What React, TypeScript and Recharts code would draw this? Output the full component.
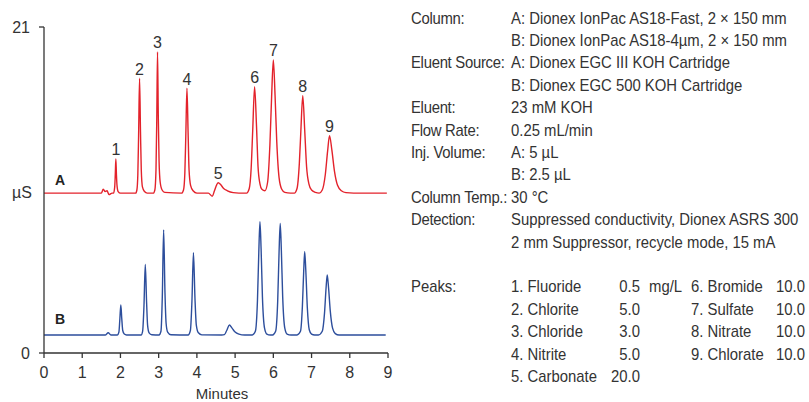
import React from 'react'
import { LineChart, Line, XAxis, YAxis, ReferenceDot } from 'recharts'

// chromatogram A (AS18-Fast), [minutes, µS], offset baseline ~10.3
const traceA: [number, number][] = [
  [0, 10.3], [1.5, 10.3], [1.55, 10.55], [1.6, 10.4], [1.65, 10.45], [1.7, 10.2], [1.78, 10.3],
  [1.82, 10.3], [1.85, 10.7], [1.865, 11.5], [1.88, 12.5], [1.895, 11.5], [1.91, 10.8], [1.94, 10.4], [2.0, 10.3],
  [2.4, 10.3], [2.43, 10.5], [2.455, 11.5], [2.475, 14.0], [2.5, 17.7], [2.525, 14.2], [2.545, 11.8], [2.575, 10.7], [2.63, 10.4], [2.7, 10.3],
  [2.86, 10.3], [2.9, 10.5], [2.93, 11.8], [2.95, 15.0], [2.97, 19.4], [2.99, 15.3], [3.01, 12.4], [3.04, 11.0], [3.09, 10.5], [3.16, 10.35],
  [3.6, 10.3], [3.65, 10.5], [3.685, 11.6], [3.71, 14.0], [3.74, 17.05], [3.77, 14.2], [3.795, 11.8], [3.835, 10.8], [3.9, 10.45], [4.0, 10.3],
  [4.3, 10.3], [4.4, 10.1], [4.46, 10.45], [4.52, 10.85], [4.56, 10.97], [4.62, 10.85], [4.7, 10.6], [4.8, 10.45], [4.95, 10.33], [5.1, 10.3],
  [5.3, 10.3], [5.37, 10.6], [5.42, 11.9], [5.46, 14.3], [5.51, 17.16], [5.56, 14.6], [5.6, 12.0], [5.65, 10.9], [5.7, 10.55],
  [5.78, 10.45], [5.85, 11.0], [5.91, 13.4], [5.955, 16.5], [6.0, 18.88], [6.045, 16.6], [6.09, 13.6], [6.15, 11.3], [6.22, 10.55], [6.3, 10.35], [6.45, 10.3],
  [6.55, 10.3], [6.62, 10.6], [6.68, 12.2], [6.72, 14.3], [6.77, 16.58], [6.82, 14.4], [6.87, 12.0], [6.93, 10.9], [7.0, 10.5], [7.1, 10.35],
  [7.2, 10.3], [7.28, 10.5], [7.36, 11.5], [7.42, 13.0], [7.47, 14.0], [7.53, 13.1], [7.6, 11.7], [7.68, 10.8], [7.78, 10.45], [7.9, 10.33], [8.1, 10.3],
  [8.97, 10.3],
]

// chromatogram B (AS18-4µm), baseline ~1.16
const traceB: [number, number][] = [
  [0, 1.16], [1.6, 1.16], [1.68, 1.3], [1.75, 1.16],
  [1.92, 1.16], [1.96, 1.35], [1.985, 2.2], [2.01, 3.09], [2.035, 2.2], [2.06, 1.45], [2.1, 1.22], [2.16, 1.16],
  [2.54, 1.16], [2.58, 1.4], [2.615, 3.0], [2.65, 5.71], [2.685, 3.2], [2.71, 1.8], [2.75, 1.3], [2.82, 1.18],
  [3.01, 1.16], [3.06, 1.4], [3.095, 3.6], [3.13, 7.93], [3.165, 3.9], [3.195, 1.9], [3.235, 1.35], [3.32, 1.18],
  [3.77, 1.16], [3.83, 1.45], [3.87, 3.3], [3.91, 6.46], [3.95, 3.5], [3.985, 1.8], [4.04, 1.3], [4.13, 1.17],
  [4.65, 1.16], [4.72, 1.18], [4.78, 1.45], [4.85, 1.8], [4.92, 1.6], [5.0, 1.35], [5.1, 1.22], [5.25, 1.16],
  [5.45, 1.16], [5.53, 1.4], [5.585, 3.4], [5.62, 6.5], [5.65, 8.46], [5.68, 6.7], [5.715, 3.6], [5.77, 1.6], [5.83, 1.22], [5.92, 1.16],
  [5.98, 1.16], [6.06, 1.4], [6.115, 3.4], [6.15, 6.5], [6.18, 8.35], [6.21, 6.6], [6.245, 3.6], [6.3, 1.6], [6.36, 1.22], [6.46, 1.16],
  [6.62, 1.16], [6.71, 1.4], [6.76, 3.0], [6.795, 5.3], [6.82, 6.53], [6.85, 5.3], [6.89, 2.9], [6.94, 1.5], [7.0, 1.22], [7.08, 1.16],
  [7.18, 1.16], [7.28, 1.4], [7.34, 2.6], [7.38, 4.2], [7.41, 5.03], [7.445, 4.2], [7.49, 2.7], [7.55, 1.6], [7.62, 1.25], [7.72, 1.16],
  [8.94, 1.16],
]

// peak numbers sit over the apexes of trace A
const peakTimesA = [1.88, 2.5, 2.97, 3.74, 4.56, 5.51, 6.0, 6.77, 7.47]
const peakTopsA = [12.5, 17.7, 19.4, 17.05, 10.97, 17.16, 18.88, 16.58, 14.0]

const xTicks = [0, 1, 2, 3, 4, 5, 6, 7, 8, 9]
const yTicks = [0, 21]

const condLabels = ['Column:', '', 'Eluent Source:', '', 'Eluent:', 'Flow Rate:', 'Inj. Volume:', '', 'Column Temp.:', 'Detection:', '']
const condValues = [
  'A: Dionex IonPac AS18-Fast, 2 × 150 mm',
  'B: Dionex IonPac AS18-4µm, 2 × 150 mm',
  'A: Dionex EGC III KOH Cartridge',
  'B: Dionex EGC 500 KOH Cartridge',
  '23 mM KOH',
  '0.25 mL/min',
  'A: 5 µL',
  'B: 2.5 µL',
  '30 °C',
  'Suppressed conductivity, Dionex ASRS 300',
  '2 mm Suppressor, recycle mode, 15 mA',
]
const peakNames = ['1. Fluoride', '2. Chlorite', '3. Chloride', '4. Nitrite', '5. Carbonate', '6. Bromide', '7. Sulfate', '8. Nitrate', '9. Chlorate']
const peakConc = ['0.5', '5.0', '3.0', '5.0', '20.0', '10.0', '10.0', '10.0', '10.0']

const RED = '#e3222b'
const BLUE = '#2d4e9c'
const AXIS = '#333'
const TEXT = '#333'
const FONT = "'Liberation Sans', Arial, 'Helvetica Neue', sans-serif"

const dataA = traceA.map(([t, v]) => ({ t, v }))
const dataB = traceB.map(([t, v]) => ({ t, v }))

// conditions panel: 16px text squeezed horizontally to mimic the condensed face
const SX = 0.93
const px = (x: number) => x / SX
const rowY = (i: number) => 23.6 + 22.4 * i

const App: React.FC = () => {
  return (
    <div style={{ position: 'absolute', left: 0, top: 0, width: 809, height: 402, background: '#fff', fontFamily: FONT }}>
      <LineChart width={400} height={402} margin={{ top: 27, right: 12, bottom: 0, left: 0 }}>
        <XAxis
          dataKey="t"
          type="number"
          domain={[0, 9]}
          ticks={xTicks}
          height={49}
          stroke={AXIS}
          strokeWidth={1.3}
          tickSize={5}
          tickMargin={9}
          tick={{ fill: TEXT, fontSize: 16 }}
          label={{ value: 'Minutes', position: 'insideBottom', offset: 3.5, dx: 6, fill: TEXT, fontSize: 15 }}
        />
        <YAxis
          type="number"
          domain={[0, 21]}
          ticks={yTicks}
          width={44}
          stroke={AXIS}
          strokeWidth={1.3}
          tickSize={5}
          tickMargin={9}
          tick={{ fill: TEXT, fontSize: 16 }}
          label={{ value: 'µS', position: 'insideLeft', offset: 12, dy: 2, fill: TEXT, fontSize: 16 }}
        />
        <Line data={dataA} dataKey="v" type="monotone" stroke={RED} strokeWidth={1.4} dot={false} isAnimationActive={false} />
        <Line data={dataB} dataKey="v" type="monotone" stroke={BLUE} strokeWidth={1.4} dot={false} isAnimationActive={false} />
        {peakTimesA.map((t, i) => (
          <ReferenceDot
            key={i}
            x={t}
            y={peakTopsA[i]}
            r={0}
            fill="none"
            stroke="none"
            label={{ value: String(i + 1), position: 'top', offset: 3.5, fill: TEXT, fontSize: 16 }}
          />
        ))}
        <ReferenceDot x={0.42} y={11.13} r={0} fill="none" stroke="none"
          label={{ value: 'A', position: 'center', fill: '#222', fontSize: 14, fontWeight: 'bold' }} />
        <ReferenceDot x={0.42} y={2.16} r={0} fill="none" stroke="none"
          label={{ value: 'B', position: 'center', fill: '#222', fontSize: 14, fontWeight: 'bold' }} />
      </LineChart>

      <svg width={809} height={402} style={{ position: 'absolute', left: 0, top: 0, pointerEvents: 'none' }}>
        <g fontFamily={FONT} fontSize={16} fill={TEXT} transform={`scale(${SX},1)`}>
          {condLabels.map((s, i) => s && (
            <text key={'l' + i} x={px(411)} y={rowY(i)} letterSpacing={-0.3}>{s}</text>
          ))}
          {condValues.map((s, i) => <text key={'v' + i} x={px(511)} y={rowY(i)}>{s}</text>)}
          <text x={px(411)} y={rowY(12)}>Peaks:</text>
          {peakNames.slice(0, 5).map((s, i) => (
            <text key={'p' + i} x={px(511)} y={rowY(12 + i)}>{s}</text>
          ))}
          {peakConc.slice(0, 5).map((s, i) => (
            <text key={'c' + i} x={px(640)} y={rowY(12 + i)} textAnchor="end">{s}</text>
          ))}
          <text x={px(649)} y={rowY(12)}>mg/L</text>
          {peakNames.slice(5).map((s, i) => (
            <text key={'q' + i} x={px(691)} y={rowY(12 + i)}>{s}</text>
          ))}
          {peakConc.slice(5).map((s, i) => (
            <text key={'d' + i} x={px(805)} y={rowY(12 + i)} textAnchor="end">{s}</text>
          ))}
        </g>
      </svg>
    </div>
  )
}

export default App
